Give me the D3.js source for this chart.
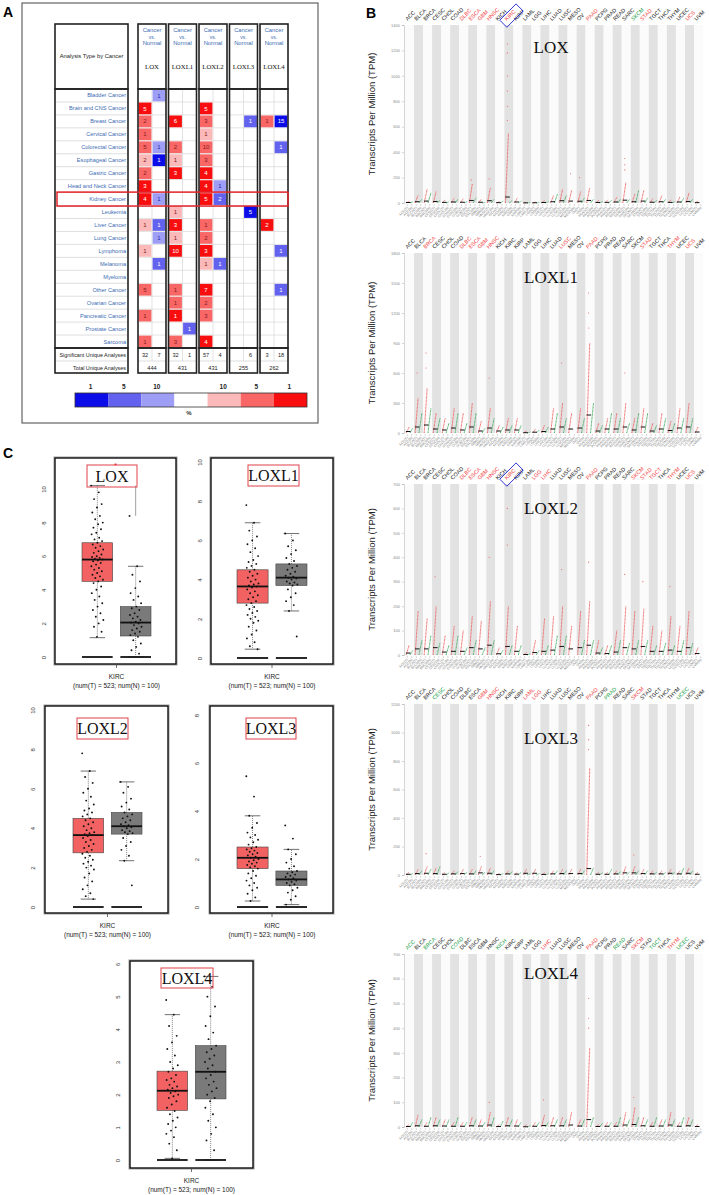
<!DOCTYPE html>
<html>
<head>
<meta charset="utf-8">
<script src="https://cdn.jsdelivr.net/npm/d3@7"></script>
<style>
  body { margin: 0; background: #fff; }
  svg { display: block; }
</style>
</head>
<body>
<svg id="fig" width="709" height="1195"></svg>
<script>
// ---------- panel A : Oncomine summary ----------
const cancerTypes = ["Bladder Cancer", "Brain and CNS Cancer", "Breast Cancer", "Cervical Cancer",
  "Colorectal Cancer", "Esophageal Cancer", "Gastric Cancer", "Head and Neck Cancer", "Kidney Cancer",
  "Leukemia", "Liver Cancer", "Lung Cancer", "Lymphoma", "Melanoma", "Myeloma", "Other Cancer",
  "Ovarian Cancer", "Pancreatic Cancer", "Prostate Cancer", "Sarcoma"];
const genes = ["LOX", "LOXL1", "LOXL2", "LOXL3", "LOXL4"];
// [cancer, gene, number of analyses, level]  level > 0 over-expressed, < 0 under-expressed (3 = top 1%)
const oncomineCells = [
  ["Bladder Cancer", "LOX", 1, -1],
  ["Brain and CNS Cancer", "LOX", 5, 3], ["Brain and CNS Cancer", "LOXL2", 5, 3],
  ["Breast Cancer", "LOX", 2, 2], ["Breast Cancer", "LOXL1", 6, 3], ["Breast Cancer", "LOXL2", 3, 2],
  ["Breast Cancer", "LOXL3", 1, -2], ["Breast Cancer", "LOXL4", 1, 2], ["Breast Cancer", "LOXL4", 15, -3],
  ["Cervical Cancer", "LOX", 1, 2], ["Cervical Cancer", "LOXL2", 1, 1],
  ["Colorectal Cancer", "LOX", 5, 2], ["Colorectal Cancer", "LOX", 1, -1], ["Colorectal Cancer", "LOXL1", 2, 2],
  ["Colorectal Cancer", "LOXL2", 10, 2], ["Colorectal Cancer", "LOXL4", 1, -2],
  ["Esophageal Cancer", "LOX", 2, 1], ["Esophageal Cancer", "LOX", 1, -3], ["Esophageal Cancer", "LOXL1", 1, 1],
  ["Esophageal Cancer", "LOXL2", 3, 2],
  ["Gastric Cancer", "LOX", 2, 2], ["Gastric Cancer", "LOXL1", 3, 3], ["Gastric Cancer", "LOXL2", 4, 3],
  ["Head and Neck Cancer", "LOX", 3, 3], ["Head and Neck Cancer", "LOXL2", 4, 3], ["Head and Neck Cancer", "LOXL2", 1, -1],
  ["Kidney Cancer", "LOX", 4, 3], ["Kidney Cancer", "LOX", 1, -1], ["Kidney Cancer", "LOXL2", 5, 3],
  ["Kidney Cancer", "LOXL2", 2, -2],
  ["Leukemia", "LOXL1", 1, 1], ["Leukemia", "LOXL3", 5, -3],
  ["Liver Cancer", "LOX", 1, 1], ["Liver Cancer", "LOX", 1, -2], ["Liver Cancer", "LOXL1", 3, 3],
  ["Liver Cancer", "LOXL2", 1, 2], ["Liver Cancer", "LOXL4", 2, 3],
  ["Lung Cancer", "LOX", 1, -1], ["Lung Cancer", "LOXL1", 1, 1], ["Lung Cancer", "LOXL2", 2, 2],
  ["Lymphoma", "LOX", 1, 1], ["Lymphoma", "LOXL1", 10, 3], ["Lymphoma", "LOXL2", 3, 3], ["Lymphoma", "LOXL4", 1, -2],
  ["Melanoma", "LOX", 1, -2], ["Melanoma", "LOXL2", 1, 1], ["Melanoma", "LOXL2", 1, -2],
  ["Other Cancer", "LOX", 5, 2], ["Other Cancer", "LOXL1", 1, 2], ["Other Cancer", "LOXL2", 7, 3],
  ["Other Cancer", "LOXL4", 1, -2],
  ["Ovarian Cancer", "LOXL1", 1, 2], ["Ovarian Cancer", "LOXL2", 2, 2],
  ["Pancreatic Cancer", "LOX", 1, 2], ["Pancreatic Cancer", "LOXL1", 1, 3], ["Pancreatic Cancer", "LOXL2", 3, 2],
  ["Prostate Cancer", "LOXL1", 1, -2],
  ["Sarcoma", "LOX", 1, 2], ["Sarcoma", "LOXL1", 3, 2], ["Sarcoma", "LOXL2", 4, 3]
];
const sigAnalyses = [["32", "7"], ["32", "1"], ["57", "4"], ["", "6"], ["3", "18"]];
const totalAnalyses = ["444", "431", "431", "255", "262"];
const legendLevels = [-3, -2, -1, 0, 1, 2, 3];
const legendLabels = ["1", "5", "10", "", "10", "5", "1"];

// ---------- panel B : GEPIA dot plots (TPM) ----------
const tcgaTypes = ["ACC", "BLCA", "BRCA", "CESC", "CHOL", "COAD", "DLBC", "ESCA", "GBM", "HNSC", "KICH",
  "KIRC", "KIRP", "LAML", "LGG", "LIHC", "LUAD", "LUSC", "MESO", "OV", "PAAD", "PCPG", "PRAD", "READ",
  "SARC", "SKCM", "STAD", "TGCT", "THCA", "THYM", "UCEC", "UCS", "UVM"];

const loxTumorTop = [15, 60, 110, 90, 25, 40, 35, 150, 30, 120, 10, 550, 40, 5, 8, 20, 60, 110, 100, 90, 120, 20, 25, 45, 160, 70, 100, 35, 60, 25, 50, 80, 15];
const loxNormalTop = [10, 30, 80, 20, 10, 30, 10, 40, 5, 30, 15, 20, 15, 2, 5, 10, 70, 60, 0, 40, 30, 10, 20, 30, 30, 100, 40, 20, 30, 10, 40, 30, 0];
const loxTumorMed = [4, 10, 15, 12, 5, 8, 6, 20, 6, 18, 3, 47, 8, 1, 2, 4, 10, 18, 15, 14, 20, 4, 5, 8, 22, 10, 15, 6, 10, 5, 8, 12, 3];
const loxExtra = [[11, 1250], [11, 1180], [11, 1000], [11, 880], [11, 760], [11, 650], [24, 350], [24, 300], [24, 260], [18, 230], [19, 200], [9, 190], [7, 180]];
const loxUp = ["DLBC", "ESCA", "GBM", "HNSC", "KIRC", "PAAD", "STAD", "UCS"];
const loxDown = ["SKCM"];

const loxl1TumorTop = [60, 350, 450, 200, 150, 250, 200, 300, 120, 250, 80, 150, 150, 20, 40, 80, 250, 300, 200, 250, 900, 100, 150, 200, 300, 150, 250, 100, 200, 120, 250, 300, 60];
const loxl1NormalTop = [50, 200, 250, 150, 100, 200, 100, 200, 50, 150, 60, 80, 80, 10, 30, 60, 200, 150, 0, 150, 300, 80, 200, 150, 100, 200, 200, 80, 150, 100, 150, 150, 0];
const loxl1TumorMed = [15, 60, 80, 40, 30, 50, 30, 60, 20, 50, 20, 30, 30, 3, 8, 15, 40, 60, 40, 50, 180, 20, 40, 40, 60, 30, 60, 20, 40, 25, 50, 60, 10];
const loxl1Extra = [[20, 1400], [20, 1200], [20, 1050], [2, 800], [2, 650], [1, 600], [17, 700], [24, 600], [9, 550]];
const loxl1Up = ["BRCA", "DLBC", "ESCA", "GBM", "HNSC", "LUSC", "PAAD", "STAD", "THYM", "UCS"];
const loxl1Down = [];

const loxl2TumorTop = [40, 180, 150, 200, 80, 120, 100, 160, 140, 220, 30, 200, 120, 10, 60, 150, 160, 200, 120, 180, 220, 60, 40, 100, 200, 180, 190, 120, 100, 160, 120, 180, 30];
const loxl2NormalTop = [20, 60, 80, 50, 40, 80, 30, 60, 30, 60, 20, 40, 40, 5, 20, 40, 80, 80, 0, 60, 60, 30, 40, 60, 50, 60, 60, 40, 50, 40, 60, 50, 0];
const loxl2TumorMed = [8, 25, 25, 30, 12, 15, 15, 30, 25, 40, 5, 35, 15, 2, 10, 15, 20, 35, 25, 30, 40, 8, 6, 12, 30, 25, 35, 15, 15, 20, 15, 30, 6];
const loxl2Extra = [[11, 600], [11, 450], [9, 400], [20, 380], [17, 350], [24, 330], [3, 320], [26, 300], [29, 280]];
const loxl2Up = ["DLBC", "ESCA", "GBM", "HNSC", "KIRC", "LGG", "LIHC", "PAAD", "SKCM", "STAD", "TGCT", "THYM", "UCS"];
const loxl2Down = [];

const loxl3TumorTop = [20, 40, 60, 50, 20, 30, 40, 40, 60, 50, 10, 30, 20, 40, 40, 15, 30, 40, 40, 40, 750, 20, 20, 30, 60, 60, 40, 30, 30, 40, 30, 50, 20];
const loxl3NormalTop = [10, 30, 40, 60, 15, 25, 20, 30, 20, 30, 10, 25, 20, 10, 10, 10, 30, 30, 0, 30, 50, 15, 40, 25, 20, 30, 30, 20, 20, 20, 50, 30, 0];
const loxl3TumorMed = [5, 10, 12, 10, 5, 8, 10, 8, 15, 12, 3, 8, 6, 12, 12, 4, 8, 10, 10, 10, 45, 5, 5, 8, 15, 15, 10, 8, 8, 12, 8, 12, 5];
const loxl3Extra = [[20, 1050], [20, 950], [20, 880], [2, 150], [8, 130], [25, 140]];
const loxl3Up = ["GBM", "HNSC", "LAML", "LGG", "PAAD", "SKCM"];
const loxl3Down = ["CESC", "PRAD", "UCEC"];

const loxl4TumorTop = [10, 50, 20, 40, 30, 20, 20, 40, 30, 60, 10, 40, 30, 10, 20, 50, 40, 40, 60, 30, 320, 10, 20, 20, 60, 80, 40, 20, 30, 60, 20, 40, 10];
const loxl4NormalTop = [20, 30, 40, 30, 30, 40, 20, 30, 20, 40, 25, 30, 20, 5, 20, 20, 30, 30, 0, 30, 40, 15, 20, 40, 30, 40, 30, 40, 30, 30, 40, 30, 0];
const loxl4TumorMed = [2, 5, 3, 5, 4, 3, 3, 5, 4, 8, 2, 5, 4, 1, 3, 6, 5, 5, 8, 4, 30, 2, 3, 3, 8, 10, 5, 3, 4, 8, 3, 5, 2];
const loxl4Extra = [[20, 520], [20, 440], [20, 400], [15, 110], [25, 120], [9, 100]];
const loxl4Up = ["LIHC", "PAAD", "SKCM", "THYM"];
const loxl4Down = ["ACC", "BRCA", "COAD", "KICH", "READ", "TGCT", "UCEC"];

// ---------- panel C : KIRC box plots, log2(TPM + 1) ----------
// box stats: [lower whisker, q1, median, q3, upper whisker]
const loxTumorStats = [1.15, 4.5, 5.8, 6.8, 10.2];
const loxNormalStats = [0, 1.25, 2.05, 3.0, 5.4];
const loxNormalBracket = [8.4, 10.2];
const loxTumorPts = [10.2, 9.8, 9.4, 9.1, 8.9, 8.6, 8.4, 8.2, 8.0, 7.9, 7.7, 7.6, 7.4, 7.3, 7.1, 7.0, 6.9, 6.8, 6.7, 6.6,
  6.5, 6.4, 6.3, 6.2, 6.1, 6.0, 5.95, 5.9, 5.85, 5.8, 5.75, 5.7, 5.6, 5.5, 5.4, 5.3, 5.2, 5.1, 5.0, 4.9,
  4.8, 4.7, 4.6, 4.5, 4.4, 4.2, 4.0, 3.8, 3.6, 3.4, 3.2, 3.0, 2.8, 2.6, 2.4, 2.2, 2.0, 1.8, 1.5, 1.2];
const loxNormalPts = [8.4, 5.4, 4.9, 4.5, 4.1, 3.8, 3.6, 3.4, 3.2, 3.0, 2.9, 2.8, 2.6, 2.5, 2.4, 2.3, 2.2, 2.1, 2.05,
  2.0, 1.9, 1.8, 1.7, 1.6, 1.5, 1.4, 1.3, 1.2, 1.0, 0.8, 0.6, 0.4, 0.2];

const loxl1TumorStats = [0.45, 2.8, 3.65, 4.5, 6.9];
const loxl1NormalStats = [2.4, 3.7, 4.1, 4.8, 6.35];
const loxl1TumorPts = [7.8, 6.9, 6.5, 6.2, 6.0, 5.8, 5.6, 5.4, 5.2, 5.0, 4.9, 4.8, 4.7, 4.6, 4.5, 4.4, 4.3, 4.2, 4.1, 4.0,
  3.9, 3.8, 3.75, 3.7, 3.65, 3.6, 3.5, 3.4, 3.3, 3.2, 3.1, 3.0, 2.9, 2.8, 2.7, 2.6, 2.5, 2.4, 2.3, 2.2,
  2.1, 2.0, 1.9, 1.8, 1.6, 1.4, 1.2, 1.0, 0.8, 0.6, 0.45];
const loxl1NormalPts = [6.35, 6.0, 5.7, 5.5, 5.3, 5.1, 4.95, 4.8, 4.7, 4.6, 4.5, 4.4, 4.3, 4.2, 4.15, 4.1, 4.05, 4.0,
  3.9, 3.85, 3.8, 3.75, 3.7, 3.5, 3.3, 3.1, 2.9, 2.7, 2.4, 1.1];

const loxl2TumorStats = [0.4, 2.75, 3.65, 4.5, 6.9];
const loxl2NormalStats = [2.35, 3.7, 4.1, 4.8, 6.35];
const loxl2TumorPts = [7.8, 6.9, 6.6, 6.3, 6.0, 5.8, 5.6, 5.4, 5.2, 5.0, 4.9, 4.8, 4.7, 4.6, 4.5, 4.4, 4.3, 4.2, 4.1, 4.0,
  3.9, 3.8, 3.75, 3.7, 3.65, 3.6, 3.5, 3.4, 3.3, 3.2, 3.1, 3.0, 2.9, 2.8, 2.7, 2.6, 2.5, 2.4, 2.3, 2.2,
  2.1, 2.0, 1.9, 1.7, 1.5, 1.3, 1.1, 0.9, 0.7, 0.55, 0.4];
const loxl2NormalPts = [6.35, 6.1, 5.8, 5.5, 5.3, 5.1, 4.95, 4.8, 4.7, 4.6, 4.5, 4.4, 4.3, 4.2, 4.15, 4.1, 4.05, 4.0,
  3.9, 3.85, 3.8, 3.75, 3.7, 3.5, 3.3, 3.1, 2.9, 2.6, 2.35, 1.1];

const loxl3TumorStats = [0.25, 1.6, 2.05, 2.5, 3.8];
const loxl3NormalStats = [0.1, 0.9, 1.15, 1.5, 2.4];
const loxl3TumorPts = [5.45, 4.6, 3.8, 3.5, 3.3, 3.1, 3.0, 2.9, 2.8, 2.7, 2.6, 2.5, 2.45, 2.4, 2.35, 2.3, 2.25, 2.2, 2.15,
  2.1, 2.05, 2.0, 1.95, 1.9, 1.85, 1.8, 1.75, 1.7, 1.65, 1.6, 1.5, 1.4, 1.3, 1.2, 1.1, 1.0, 0.9, 0.8, 0.7,
  0.55, 0.4, 0.25];
const loxl3NormalPts = [3.4, 2.85, 2.4, 2.2, 2.0, 1.85, 1.7, 1.6, 1.5, 1.45, 1.4, 1.35, 1.3, 1.25, 1.2, 1.15, 1.1, 1.05,
  1.0, 0.95, 0.9, 0.8, 0.7, 0.6, 0.45, 0.3, 0.1];

const loxl4TumorStats = [0.05, 1.52, 2.12, 2.72, 4.45];
const loxl4NormalStats = [0, 1.87, 2.7, 3.5, 5.62];
const loxl4TumorPts = [4.9, 4.45, 4.1, 3.8, 3.6, 3.4, 3.2, 3.0, 2.9, 2.8, 2.7, 2.6, 2.5, 2.45, 2.4, 2.3, 2.25, 2.2, 2.15,
  2.1, 2.05, 2.0, 1.95, 1.9, 1.8, 1.7, 1.6, 1.5, 1.4, 1.3, 1.2, 1.1, 1.0, 0.9, 0.8, 0.7, 0.5, 0.3, 0.05];
const loxl4NormalPts = [5.62, 5.3, 5.0, 4.7, 4.4, 4.1, 3.9, 3.7, 3.5, 3.4, 3.3, 3.2, 3.1, 3.0, 2.9, 2.8, 2.7, 2.6, 2.5,
  2.4, 2.3, 2.2, 2.1, 2.0, 1.9, 1.8, 1.6, 1.4, 1.2, 1.0, 0.8, 0.6, 0.3];

const sans = "'Liberation Sans', Arial, sans-serif";
const serif = "'Liberation Serif', 'Times New Roman', serif";
const svg = d3.select("#fig");
svg.append("rect").attr("width", 709).attr("height", 1195).attr("fill", "#fff");

// panel letters
[["A", 3, 17], ["B", 366, 18], ["C", 3, 458]].forEach(([t, x, y]) =>
  svg.append("text").attr("x", x).attr("y", y).attr("font-family", sans)
    .attr("font-weight", "bold").attr("font-size", 14).text(t));

// ================= PANEL A =================
const cellColor = d3.scaleOrdinal()
  .domain(legendLevels)
  .range(["#0c0ce8", "#6262ee", "#9e9ef7", "#ffffff", "#fbb9b9", "#f86666", "#f80e0e"]);
const textColor = lv => (lv === 3 || lv <= -2) ? "#fff" : (lv > 0 ? "#8a1c1c" : "#2b2ba8");
const blueTxt = "#3c6cb4";

const aTop = 24, bodyTop = 89, bodyBot = 348, sumMid = 361, sumBot = 373;
const rowY = d3.scaleBand().domain(cancerTypes).range([bodyTop, bodyBot]);
const colX = d3.scaleBand().domain(genes).range([138, 288]).paddingInner(0.082);
const subX = d3.scaleBand().domain(["up", "down"]).range([0, colX.bandwidth()]);
const gA = svg.append("g");

svg.append("rect").attr("x", 22).attr("y", 3).attr("width", 296).attr("height", 420)
  .attr("fill", "none").attr("stroke", "#444").attr("stroke-width", 1);

function thickBox(g, x, y, w, h) {
  g.append("rect").attr("x", x).attr("y", y).attr("width", w).attr("height", h)
    .attr("fill", "none").attr("stroke", "#222").attr("stroke-width", 1.6);
}
// left label table
cancerTypes.forEach(c => {
  gA.append("line").attr("x1", 55).attr("x2", 128).attr("y1", rowY(c)).attr("y2", rowY(c))
    .attr("stroke", "#c8c8c8").attr("stroke-width", 0.6);
  gA.append("text").attr("x", 126).attr("y", rowY(c) + rowY.bandwidth() / 2 + 2)
    .attr("text-anchor", "end").attr("font-family", sans).attr("font-size", 5.6)
    .attr("fill", blueTxt).text(c);
});
gA.append("line").attr("x1", 55).attr("x2", 128).attr("y1", sumMid).attr("y2", sumMid)
  .attr("stroke", "#c8c8c8").attr("stroke-width", 0.6);
gA.append("text").attr("x", 91.5).attr("y", 58).attr("text-anchor", "middle")
  .attr("font-family", sans).attr("font-size", 5.8).attr("fill", "#222").text("Analysis Type by Cancer");
gA.append("text").attr("x", 126).attr("y", 356.5).attr("text-anchor", "end")
  .attr("font-family", sans).attr("font-size", 5.4).attr("fill", "#222").text("Significant Unique Analyses");
gA.append("text").attr("x", 126).attr("y", 369.5).attr("text-anchor", "end")
  .attr("font-family", sans).attr("font-size", 5.4).attr("fill", "#222").text("Total Unique Analyses");
thickBox(gA, 55, aTop, 73, bodyTop - aTop);
thickBox(gA, 55, bodyTop, 73, bodyBot - bodyTop);
thickBox(gA, 55, bodyBot, 73, sumBot - bodyBot);

// gene columns
genes.forEach((gname, gi) => {
  const x0 = colX(gname), w = colX.bandwidth();
  cancerTypes.forEach(c => {
    gA.append("line").attr("x1", x0).attr("x2", x0 + w).attr("y1", rowY(c)).attr("y2", rowY(c))
      .attr("stroke", "#d0d0d0").attr("stroke-width", 0.6);
  });
  gA.append("line").attr("x1", x0 + w / 2).attr("x2", x0 + w / 2).attr("y1", bodyTop).attr("y2", sumMid)
    .attr("stroke", "#d0d0d0").attr("stroke-width", 0.6);
  gA.append("line").attr("x1", x0).attr("x2", x0 + w).attr("y1", sumMid).attr("y2", sumMid)
    .attr("stroke", "#c8c8c8").attr("stroke-width", 0.6);

  oncomineCells.filter(d => d[1] === gname).forEach(([c, , n, lv]) => {
    const sx = x0 + subX(lv > 0 ? "up" : "down");
    gA.append("rect").attr("x", sx + 0.6).attr("y", rowY(c) + 0.6)
      .attr("width", subX.bandwidth() - 1.2).attr("height", rowY.bandwidth() - 1.2)
      .attr("fill", cellColor(lv));
    gA.append("text").attr("x", sx + subX.bandwidth() / 2).attr("y", rowY(c) + rowY.bandwidth() / 2 + 2.1)
      .attr("text-anchor", "middle").attr("font-family", sans).attr("font-size", 6)
      .attr("fill", textColor(lv)).text(n);
  });

  ["Cancer", "vs.", "Normal"].forEach((t, i) =>
    gA.append("text").attr("x", x0 + w / 2).attr("y", 32 + i * 6.5).attr("text-anchor", "middle")
      .attr("font-family", sans).attr("font-size", i === 1 ? 5 : 5.8).attr("fill", blueTxt).text(t));
  gA.append("text").attr("x", x0 + w / 2).attr("y", 69).attr("text-anchor", "middle")
    .attr("font-family", serif).attr("font-size", 6.8).attr("fill", "#111").text(gname);

  sigAnalyses[gi].forEach((t, k) =>
    gA.append("text").attr("x", x0 + subX(["up", "down"][k]) + subX.bandwidth() / 2).attr("y", 356.5)
      .attr("text-anchor", "middle").attr("font-family", sans).attr("font-size", 5.6)
      .attr("fill", "#222").text(t));
  gA.append("text").attr("x", x0 + w / 2).attr("y", 369.5).attr("text-anchor", "middle")
    .attr("font-family", sans).attr("font-size", 5.6).attr("fill", "#222").text(totalAnalyses[gi]);

  thickBox(gA, x0, aTop, w, bodyTop - aTop);
  thickBox(gA, x0, bodyTop, w, bodyBot - bodyTop);
  thickBox(gA, x0, bodyBot, w, sumBot - bodyBot);
});

// kidney highlight
gA.append("rect").attr("x", 57).attr("y", rowY("Kidney Cancer") - 0.5)
  .attr("width", 231).attr("height", rowY.bandwidth() + 1)
  .attr("fill", "none").attr("stroke", "#e3242b").attr("stroke-width", 1.5);

// legend
const legX = d3.scaleBand().domain(legendLevels).range([75, 307]);
legendLevels.forEach((lv, i) => {
  gA.append("rect").attr("x", legX(lv)).attr("y", 393).attr("width", legX.bandwidth()).attr("height", 14)
    .attr("fill", cellColor(lv));
  gA.append("text").attr("x", legX(lv) + legX.bandwidth() / 2 - 1).attr("y", 389)
    .attr("text-anchor", "middle").attr("font-family", sans).attr("font-weight", "bold")
    .attr("font-size", 6.5).attr("fill", "#222").text(legendLabels[i]);
});
gA.append("rect").attr("x", 75).attr("y", 393).attr("width", 232).attr("height", 14)
  .attr("fill", "none").attr("stroke", "#333").attr("stroke-width", 0.8);
gA.append("text").attr("x", 189).attr("y", 415).attr("text-anchor", "middle")
  .attr("font-family", sans).attr("font-weight", "bold").attr("font-size", 6).attr("fill", "#333").text("%");

// ================= PANEL B =================
const bPanels = [
  { gene: "LOX", top: 25, zero: 203, max: 1400, step: 200, titleY: 47, tumor: loxTumorTop, normal: loxNormalTop,
    med: loxTumorMed, extra: loxExtra, up: loxUp, down: loxDown, boxed: true },
  { gene: "LOXL1", top: 253, zero: 433, max: 1800, step: 300, titleY: 277, tumor: loxl1TumorTop, normal: loxl1NormalTop,
    med: loxl1TumorMed, extra: loxl1Extra, up: loxl1Up, down: loxl1Down, boxed: false },
  { gene: "LOXL2", top: 484, zero: 655, max: 700, step: 100, titleY: 508, tumor: loxl2TumorTop, normal: loxl2NormalTop,
    med: loxl2TumorMed, extra: loxl2Extra, up: loxl2Up, down: loxl2Down, boxed: true },
  { gene: "LOXL3", top: 704, zero: 875, max: 1200, step: 200, titleY: 738, tumor: loxl3TumorTop, normal: loxl3NormalTop,
    med: loxl3TumorMed, extra: loxl3Extra, up: loxl3Up, down: loxl3Down, boxed: false },
  { gene: "LOXL4", top: 954, zero: 1127, max: 700, step: 100, titleY: 973, tumor: loxl4TumorTop, normal: loxl4NormalTop,
    med: loxl4TumorMed, extra: loxl4Extra, up: loxl4Up, down: loxl4Down, boxed: false }
];
const bx = d3.scaleBand().domain(tcgaTypes).range([405, 703]);
const half = d3.scaleBand().domain(["T", "N"]).range([0, bx.bandwidth()]);

bPanels.forEach(p => {
  const g = svg.append("g");
  const y = d3.scaleLinear().domain([0, p.max]).range([p.zero, p.top]);

  tcgaTypes.forEach((t, i) => {
    g.append("rect").attr("x", bx(t)).attr("y", p.top).attr("width", bx.bandwidth())
      .attr("height", p.zero - p.top).attr("fill", i % 2 ? "#e2e2e2" : "#fbfbfb");
  });

  const ax = g.append("g").attr("transform", "translate(404,0)")
    .call(d3.axisLeft(y).tickValues(d3.range(0, p.max + 1, p.step)).tickSize(2).tickPadding(2)
      .tickFormat(d3.format("d")));
  ax.selectAll("text").attr("font-size", 4).attr("fill", "#888").attr("font-family", sans);
  ax.selectAll("line,path").attr("stroke", "#aaa").attr("stroke-width", 0.5);

  // bottom sample labels
  tcgaTypes.forEach(t => {
    ["T", "N"].forEach(k => {
      const xx = bx(t) + half(k) + half.bandwidth() / 2;
      g.append("line").attr("x1", xx).attr("x2", xx).attr("y1", p.zero + 1).attr("y2", p.zero + 3)
        .attr("stroke", "#999").attr("stroke-width", 0.4);
      g.append("text").attr("transform", `translate(${xx + 1},${p.zero + 5}) rotate(-45)`)
        .attr("text-anchor", "end").attr("font-family", sans).attr("font-size", 3.3)
        .attr("fill", "#777").text(`${t}(${k})`);
    });
  });

  // tumour / normal sample columns
  tcgaTypes.forEach((t, i) => {
    const xc = bx(t) + bx.bandwidth() / 2;
    g.append("line").attr("x1", xc - 3.4).attr("y1", p.zero).attr("x2", xc - 0.4).attr("y2", y(p.tumor[i]))
      .attr("stroke", "#f05a5a").attr("stroke-width", 0.9).attr("stroke-dasharray", "1,0.4");
    if (p.normal[i] > 0)
      g.append("line").attr("x1", xc + 0.4).attr("y1", p.zero).attr("x2", xc + 3.4).attr("y2", y(p.normal[i]))
        .attr("stroke", "#3aa85a").attr("stroke-width", 0.9).attr("stroke-dasharray", "1,0.4");
    g.append("line").attr("x1", xc - 3.6).attr("x2", xc + 1).attr("y1", y(p.med[i])).attr("y2", y(p.med[i]))
      .attr("stroke", "#111").attr("stroke-width", 1);
  });
  p.extra.forEach(([i, v]) => {
    g.append("circle").attr("cx", bx(tcgaTypes[i]) + bx.bandwidth() / 2 - 1.5).attr("cy", y(v))
      .attr("r", 0.6).attr("fill", "#f06a6a");
  });

  // header labels
  tcgaTypes.forEach(t => {
    const xc = bx(t) + bx.bandwidth() / 2;
    const col = p.up.includes(t) ? "#f04646" : (p.down.includes(t) ? "#22a24a" : "#222");
    g.append("text").attr("transform", `translate(${xc - 2},${p.top - 4}) rotate(-45)`)
      .attr("font-family", sans).attr("font-size", 5.4).attr("fill", col).text(t);
  });
  if (p.boxed) {
    const xc = bx("KIRC") + bx.bandwidth() / 2;
    g.append("rect").attr("transform", `translate(${xc - 2},${p.top - 2}) rotate(-45)`)
      .attr("x", -3).attr("y", -7).attr("width", 23).attr("height", 10)
      .attr("fill", "none").attr("stroke", "#2a2ad0").attr("stroke-width", 0.9);
  }

  g.append("text").attr("x", 551).attr("y", p.titleY + 6).attr("text-anchor", "middle")
    .attr("font-family", serif).attr("font-size", 17).attr("fill", "#111").text(p.gene);
  g.append("text").attr("transform", `translate(375,${(p.top + p.zero) / 2}) rotate(-90)`)
    .attr("text-anchor", "middle").attr("font-family", sans).attr("font-size", 9.5)
    .attr("fill", "#222").text("Transcripts Per Million (TPM)");
});

// ================= PANEL C =================
const cPanels = [
  { gene: "LOX", fx: [55, 176], fy: [458, 664], vMax: 10, py: [657, 489], ticks: [0, 2, 4, 6, 8, 10],
    bx: [82, 151], labX: 43, tb: [87, 465, 50, 22], ts: loxTumorStats, ns: loxNormalStats,
    tp: loxTumorPts, np: loxNormalPts, star: true, bracket: loxNormalBracket },
  { gene: "LOXL1", fx: [211, 333], fy: [458, 664], vMax: 10, py: [658, 462], ticks: [0, 2, 4, 6, 8, 10],
    bx: [237, 307], labX: 199, tb: [248, 465, 51, 21], ts: loxl1TumorStats, ns: loxl1NormalStats,
    tp: loxl1TumorPts, np: loxl1NormalPts },
  { gene: "LOXL2", fx: [45, 168], fy: [706, 913], vMax: 10, py: [907, 710], ticks: [0, 2, 4, 6, 8, 10],
    bx: [73, 142], labX: 32, tb: [77, 718, 51, 21], ts: loxl2TumorStats, ns: loxl2NormalStats,
    tp: loxl2TumorPts, np: loxl2NormalPts },
  { gene: "LOXL3", fx: [210, 333], fy: [706, 913], vMax: 8, py: [907, 715], ticks: [0, 2, 4, 6, 8],
    bx: [237, 307], labX: 196, tb: [246, 718, 50, 21], ts: loxl3TumorStats, ns: loxl3NormalStats,
    tp: loxl3TumorPts, np: loxl3NormalPts },
  { gene: "LOXL4", fx: [130, 253], fy: [961, 1168], vMax: 6, py: [1160, 964], ticks: [0, 1, 2, 3, 4, 5, 6],
    bx: [157, 226], labX: 117, tb: [161, 968, 52, 20], ts: loxl4TumorStats, ns: loxl4NormalStats,
    tp: loxl4TumorPts, np: loxl4NormalPts }
];

cPanels.forEach(p => {
  const g = svg.append("g");
  const y = d3.scaleLinear().domain([0, p.vMax]).range(p.py);
  const gx = d3.scaleBand().domain(["Tumor", "Normal"]).range(p.bx).paddingInner(0.2);
  const [x0, x1] = p.fx, [y0, y1] = p.fy;

  g.append("rect").attr("x", x0).attr("y", y0).attr("width", x1 - x0).attr("height", y1 - y0)
    .attr("fill", "none").attr("stroke", "#b0b0b0").attr("stroke-width", 3.2);
  g.append("rect").attr("x", x0).attr("y", y0).attr("width", x1 - x0).attr("height", y1 - y0)
    .attr("fill", "#fff").attr("stroke", "#111").attr("stroke-width", 1.4);

  const ax = g.append("g").attr("transform", `translate(${p.labX + 2.5},0)`)
    .call(d3.axisLeft(y).tickValues(p.ticks).tickSize(0).tickFormat(d3.format("d")));
  ax.select(".domain").remove();
  ax.selectAll("text").attr("x", 0).attr("dy", 0).attr("transform", "rotate(-90)")
    .attr("text-anchor", "middle").attr("font-family", sans).attr("font-size", 6).attr("fill", "#333");

  if (p.bracket) {
    const xc = gx("Normal") + gx.bandwidth() / 2;
    g.append("line").attr("x1", xc).attr("x2", xc).attr("y1", y(p.bracket[0])).attr("y2", y(p.bracket[1]))
      .attr("stroke", "#888").attr("stroke-width", 0.8);
  }

  const groups = [["Tumor", p.ts, p.tp, "#f26262"], ["Normal", p.ns, p.np, "#7a7a7a"]];
  groups.forEach(([key, s, pts, fill]) => {
    const left = gx(key), w = gx.bandwidth(), xc = left + w / 2;
    const [lo, q1, md, q3, hi] = s;
    g.append("line").attr("x1", xc).attr("x2", xc).attr("y1", y(q3)).attr("y2", y(hi))
      .attr("stroke", "#333").attr("stroke-width", 0.6).attr("stroke-dasharray", "1,1");
    g.append("line").attr("x1", xc).attr("x2", xc).attr("y1", y(q1)).attr("y2", y(lo))
      .attr("stroke", "#333").attr("stroke-width", 0.6).attr("stroke-dasharray", "1,1");
    [lo, hi].forEach(v => g.append("line").attr("x1", xc - w / 4).attr("x2", xc + w / 4)
      .attr("y1", y(v)).attr("y2", y(v)).attr("stroke", "#333").attr("stroke-width", 0.7));
    g.append("rect").attr("x", left).attr("y", y(q3)).attr("width", w).attr("height", y(q1) - y(q3))
      .attr("fill", fill).attr("stroke", "#444").attr("stroke-width", 0.6);
    pts.forEach((v, i) => {
      const off = ((i * 0.618034) % 1 - 0.5) * w * 0.4;
      g.append("circle").attr("cx", xc + off).attr("cy", y(v)).attr("r", 0.95).attr("fill", "#111");
    });
    g.append("line").attr("x1", left).attr("x2", left + w).attr("y1", y(md)).attr("y2", y(md))
      .attr("stroke", "#111").attr("stroke-width", 1.8);
    g.append("line").attr("x1", left).attr("x2", left + w).attr("y1", y(0)).attr("y2", y(0))
      .attr("stroke", "#111").attr("stroke-width", 1.8);
  });

  const [tx, ty, tw, th] = p.tb;
  g.append("rect").attr("x", tx).attr("y", ty).attr("width", tw).attr("height", th)
    .attr("fill", "none").attr("stroke", "#e0424a").attr("stroke-width", 1);
  g.append("text").attr("x", tx + tw / 2).attr("y", ty + th / 2 + 5.5).attr("text-anchor", "middle")
    .attr("font-family", serif).attr("font-size", 16).attr("fill", "#111").text(p.gene);
  if (p.star)
    g.append("text").attr("x", (x0 + x1) / 2).attr("y", ty + 3).attr("text-anchor", "middle")
      .attr("font-family", sans).attr("font-size", 8).attr("fill", "#e0242a").text("*");

  const cx = (p.bx[0] + p.bx[1]) / 2;
  g.append("line").attr("x1", cx).attr("x2", cx).attr("y1", y1 + 1).attr("y2", y1 + 4)
    .attr("stroke", "#333").attr("stroke-width", 0.7);
  g.append("text").attr("x", cx).attr("y", y1 + 15).attr("text-anchor", "middle")
    .attr("font-family", sans).attr("font-size", 6.5).attr("fill", "#222").text("KIRC");
  g.append("text").attr("x", cx).attr("y", y1 + 24).attr("text-anchor", "middle")
    .attr("font-family", sans).attr("font-size", 6.5).attr("fill", "#222").text("(num(T) = 523; num(N) = 100)");
});
</script>
</body>
</html>
